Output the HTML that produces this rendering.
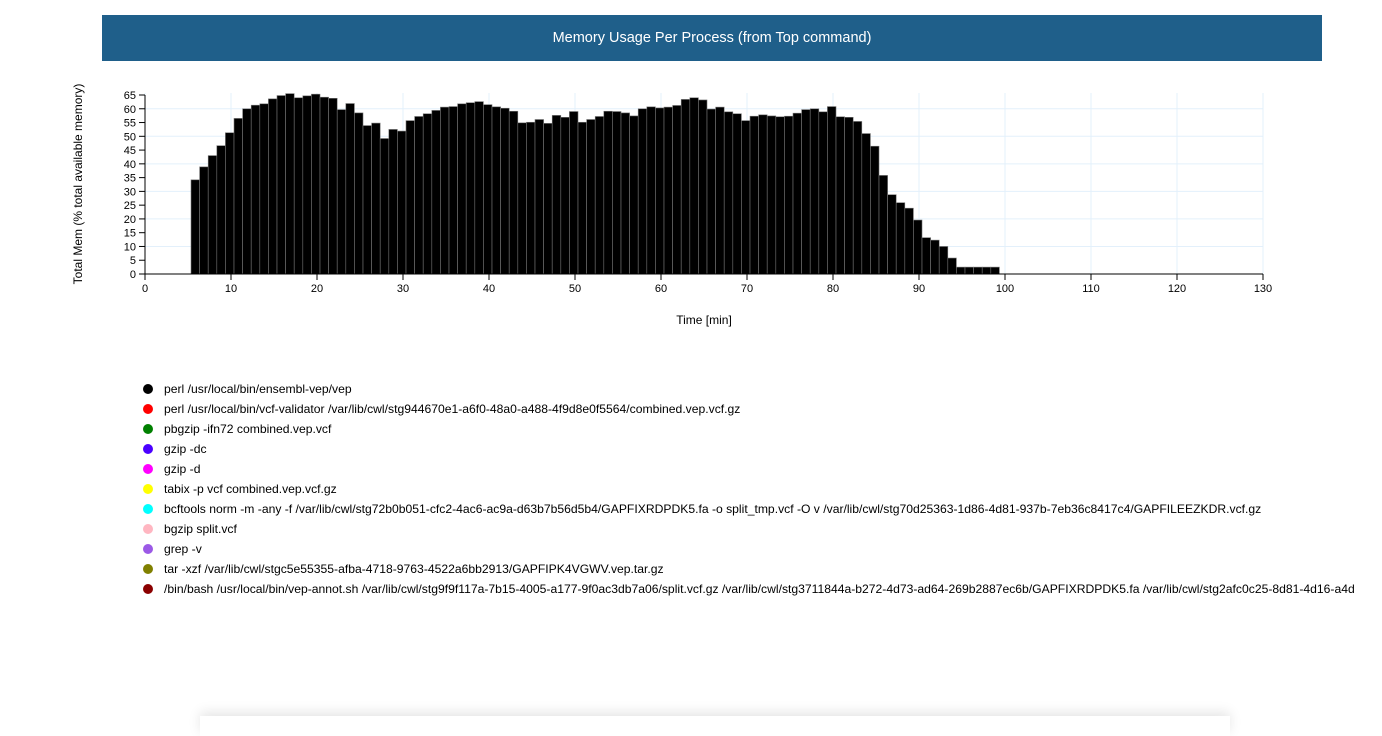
<!DOCTYPE html>
<html><head><meta charset="utf-8"><style>
body{margin:0;background:#fff;font-family:"Liberation Sans",sans-serif;width:1382px;height:720px;overflow:hidden;position:relative}
#title{position:absolute;left:102px;top:15px;width:1220px;height:46px;background:#1f5f8a;color:#fff;font-size:14.5px;line-height:46px;text-align:center}
.leg{position:absolute;left:143px;font-size:12.15px;color:#000;white-space:nowrap}
.leg span.d{display:inline-block;width:10px;height:10px;border-radius:50%;margin-right:11px;vertical-align:-1px}
#shadow{position:absolute;left:200px;top:716px;width:1030px;height:20px;box-shadow:0 -4px 12px rgba(0,0,0,0.10)}
</style></head><body>
<div id="title">Memory Usage Per Process (from Top command)</div>
<svg id="chart" width="1382" height="340" style="position:absolute;left:0;top:0"></svg>
<div id="legend"></div>
<div id="shadow"></div>
<script>
const startMin = 5.35;
const values = [34.2,38.9,43.0,46.6,51.3,56.5,60.0,61.3,61.8,63.6,64.8,65.5,64.0,64.7,65.3,64.2,63.8,59.7,61.9,58.5,53.9,54.8,49.2,52.5,51.9,55.7,57.2,58.2,59.4,60.6,60.8,61.8,62.2,62.6,61.5,60.7,60.2,59.1,54.9,55.1,56.1,54.7,57.6,56.9,59.0,55.1,56.1,57.2,59.1,59.0,58.5,57.4,60.0,60.7,60.3,60.6,61.2,63.4,64.0,63.2,59.9,60.6,58.9,58.2,55.7,57.3,57.8,57.4,57.1,57.3,58.4,59.7,60.0,58.9,60.8,57.1,56.9,55.4,51.0,46.4,35.8,28.8,25.9,23.9,19.6,13.2,12.3,10.0,5.8,2.5,2.5,2.5,2.5,2.5];
const xTicks = [0,10,20,30,40,50,60,70,80,90,100,110,120,130];
const yTicks = [0,5,10,15,20,25,30,35,40,45,50,55,60,65];
const legendLabels = ["perl /usr/local/bin/ensembl-vep/vep","perl /usr/local/bin/vcf-validator /var/lib/cwl/stg944670e1-a6f0-48a0-a488-4f9d8e0f5564/combined.vep.vcf.gz","pbgzip -ifn72 combined.vep.vcf","gzip -dc","gzip -d","tabix -p vcf combined.vep.vcf.gz","bcftools norm -m -any -f /var/lib/cwl/stg72b0b051-cfc2-4ac6-ac9a-d63b7b56d5b4/GAPFIXRDPDK5.fa -o split_tmp.vcf -O v /var/lib/cwl/stg70d25363-1d86-4d81-937b-7eb36c8417c4/GAPFILEEZKDR.vcf.gz","bgzip split.vcf","grep -v","tar -xzf /var/lib/cwl/stgc5e55355-afba-4718-9763-4522a6bb2913/GAPFIPK4VGWV.vep.tar.gz","/bin/bash /usr/local/bin/vep-annot.sh /var/lib/cwl/stg9f9f117a-7b15-4005-a177-9f0ac3db7a06/split.vcf.gz /var/lib/cwl/stg3711844a-b272-4d73-ad64-269b2887ec6b/GAPFIXRDPDK5.fa /var/lib/cwl/stg2afc0c25-8d81-4d16-a4d"];
const legendColors = ["#000000","#ff0000","#008000","#4b00ff","#ff00ff","#ffff00","#00ffff","#ffb6c1","#9b59e6","#808000","#8b0000"];

const NS="http://www.w3.org/2000/svg";
const svg=document.getElementById('chart');
const x0=145,x1=1263,yb=274,yt=95;
const sx=v=>x0+(v/130)*(x1-x0);
const sy=v=>yb-(v/65)*(yb-yt);
function mk(t,a){const e=document.createElementNS(NS,t);for(const k in a)e.setAttribute(k,a[k]);svg.appendChild(e);return e;}
xTicks.forEach(t=>{
  const g=mk('line',{x1:sx(t),x2:sx(t),y1:93,y2:yb,stroke:'#e3f0fb'});
  
  
  const tk=mk('line',{x1:sx(t),x2:sx(t),y1:yb,y2:yb+6,stroke:'#000'});
  
  
  const l=mk('text',{x:sx(t),y:yb+18,'font-size':11,'text-anchor':'middle'});l.textContent=t;
  
  
});
yTicks.forEach(t=>{
  if(t%10===0){const g=mk('line',{x1:x0,x2:x1,y1:sy(t),y2:sy(t),stroke:'#e3f0fb'});
  
  }
  const tk=mk('line',{x1:x0-6,x2:x0,y1:sy(t),y2:sy(t),stroke:'#000'});
  
  
  const l=mk('text',{x:x0-9,y:sy(t)+4,'font-size':11,'text-anchor':'end'});l.textContent=t;
  
  
});
values.forEach((v,i)=>{
  const xa=sx(startMin+i),xb=sx(startMin+i+1);
  const r=mk('rect',{x:xa,y:sy(v),width:xb-xa,height:yb-sy(v),fill:'#000',stroke:'#777','stroke-width':0.6});
  
  
});
const xa=mk('line',{x1:x0,x2:x1,y1:yb,y2:yb,stroke:'#000'});


const ya=mk('line',{x1:x0,x2:x0,y1:yt,y2:yb,stroke:'#000'});


const xt=mk('text',{x:704,y:324,'font-size':12,'text-anchor':'middle'});xt.textContent='Time [min]';


const yti=mk('text',{x:0,y:0,'font-size':12,'text-anchor':'middle',transform:'translate(82,184) rotate(-90)'});yti.textContent='Total Mem (% total available memory)';



const lg=document.getElementById('legend');
legendLabels.forEach((t,i)=>{
  const d=document.createElement('div');d.className='leg';d.style.top=(382+i*20)+'px';
  d.innerHTML='<span class="d" style="background:'+legendColors[i]+'"></span>';
  d.appendChild(document.createTextNode(t));
  
  
  lg.appendChild(d);
});
</script>
</body></html>
